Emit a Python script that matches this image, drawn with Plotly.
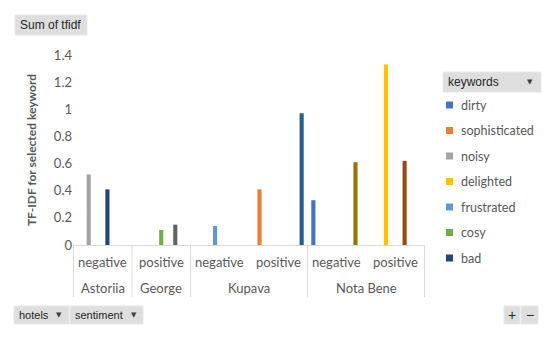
import plotly.graph_objects as go

# ---- data ----
hotels = ["Astoriia", "George", "Kupava", "Kupava", "Nota Bene", "Nota Bene"]
sentiment = ["negative", "positive", "negative", "positive", "negative", "positive"]
keywords = ["dirty", "sophisticated", "noisy", "delighted", "frustrated", "cosy", "bad",
            "excellent", "friendly", "rude", "comfortable"]
colors = ["#4472C4", "#ED7D31", "#A5A5A5", "#FFC000", "#5B9BD5", "#70AD47", "#264478",
          "#9E480E", "#636363", "#997300", "#255E91"]
values = {
    "dirty":         [None, None, None, None, 0.33, None],
    "sophisticated": [None, None, None, 0.41, None, None],
    "noisy":         [0.52, None, None, None, None, None],
    "delighted":     [None, None, None, None, None, 1.33],
    "frustrated":    [None, None, 0.14, None, None, None],
    "cosy":          [None, 0.11, None, None, None, None],
    "bad":           [0.41, None, None, None, None, None],
    "excellent":     [None, None, None, None, None, 0.62],
    "friendly":      [None, 0.15, None, None, None, None],
    "rude":          [None, None, None, None, 0.61, None],
    "comfortable":   [None, None, None, 0.97, None, None],
}
legend_visible = keywords[:7]
y_ticks = [0, 0.2, 0.4, 0.6, 0.8, 1, 1.2, 1.4]
y_ticktext = ["0", "0.2", "0.4", "0.6", "0.8", "1", "1.2", "1.4"]

# ---- layout geometry ----
W, H = 550, 340
ML, MR, MT, MB = 73, 125, 55, 95
PW, PH = W - ML - MR, H - MT - MB

def px(x):
    return (x - ML) / PW

def py(y):
    return (H - MB - y) / PH

FONT = "Lato"
GREY = "#595959"
LINE = "#D9D9D9"

fig = go.Figure()
for k, c in zip(keywords, colors):
    fig.add_trace(go.Bar(x=[hotels, sentiment], y=values[k], name=k,
                         marker=dict(color=c, line=dict(width=0)), showlegend=False))

shapes = []
annotations = []

# category table under the axis (inner = sentiment, outer = hotels)
for i, s in enumerate(sentiment):
    annotations.append(dict(xref="x", yref="paper", x=i, y=py(262), text=s,
                            showarrow=False, xanchor="center", yanchor="middle",
                            font=dict(family=FONT, size=13, color=GREY)))
groups = []
for i, h in enumerate(hotels):
    if groups and groups[-1][0] == h:
        groups[-1][2] = i
    else:
        groups.append([h, i, i])
bounds = [groups[0][1] - 0.5] + [g[2] + 0.5 for g in groups]
for h, a, b in groups:
    annotations.append(dict(xref="x", yref="paper", x=(a + b) / 2, y=py(288), text=h,
                            showarrow=False, xanchor="center", yanchor="middle",
                            font=dict(family=FONT, size=13, color=GREY)))
for bx in bounds:
    shapes.append(dict(type="line", xref="x", yref="paper", x0=bx, x1=bx,
                       y0=0, y1=py(297), line=dict(color=LINE, width=1)))

def button(x0, y0, x1, y1, text, arrow_dx=None, tx=None, size=12, anchor="left"):
    shapes.append(dict(type="rect", xref="paper", yref="paper",
                       x0=px(x0), x1=px(x1), y0=py(y1), y1=py(y0),
                       fillcolor="#DEDEDE", line=dict(color="#E8E8E8", width=1), layer="above"))
    annotations.append(dict(xref="paper", yref="paper",
                            x=px(tx if tx is not None else x0 + 3), y=py((y0 + y1) / 2),
                            text=text, showarrow=False, xanchor=anchor, yanchor="middle",
                            font=dict(family="Liberation Sans", size=size, color="#262626")))
    if arrow_dx is not None:
        annotations.append(dict(xref="paper", yref="paper", x=px(x1 - arrow_dx),
                                y=py((y0 + y1) / 2), text="▼", showarrow=False,
                                xanchor="center", yanchor="middle",
                                font=dict(family="DejaVu Sans", size=7, color="#404040")))

button(15, 15, 87, 35, "Sum of tfidf")
button(443, 72, 541, 92, "keywords", arrow_dx=11)
button(14, 306, 69, 324, "hotels", arrow_dx=10, size=11)
button(70, 306, 143, 324, "sentiment", arrow_dx=9, size=11)
button(504, 306, 520, 324, "+", tx=512, anchor="center", size=14)
button(521, 306, 538, 324, "−", tx=529.5, anchor="center", size=14)

# legend (manual, clipped like the reference)
for i, k in enumerate(legend_visible):
    yc = 105 + i * 25.5
    c = colors[keywords.index(k)]
    shapes.append(dict(type="rect", xref="paper", yref="paper",
                       x0=px(446), x1=px(453), y0=py(yc + 3.5), y1=py(yc - 3.5),
                       fillcolor=c, line=dict(width=0)))
    annotations.append(dict(xref="paper", yref="paper", x=px(459), y=py(yc),
                            text=k, showarrow=False, xanchor="left", yanchor="middle",
                            font=dict(family=FONT, size=12.5, color=GREY)))

fig.update_layout(
    width=W, height=H,
    margin=dict(l=ML, r=MR, t=MT, b=MB, autoexpand=False),
    paper_bgcolor="white", plot_bgcolor="white",
    barmode="group", bargap=0.12, bargroupgap=0.12,
    showlegend=False,
    font=dict(family=FONT, color=GREY, size=13),
    shapes=shapes, annotations=annotations,
    xaxis=dict(type="multicategory", showline=True, linecolor=LINE, linewidth=1,
               showgrid=False, ticks="", showticklabels=False, showdividers=False,
               automargin=False),
    yaxis=dict(range=[0, 1.4], tickvals=y_ticks, ticktext=y_ticktext, showgrid=False,
               zeroline=False, showline=False, ticks="", automargin=False,
               tickfont=dict(family=FONT, size=13, color=GREY),
               title=dict(text="<b>TF-IDF for selected keyword</b>", standoff=14,
                          font=dict(family=FONT, size=12, color=GREY))),
)

fig.write_html("out.html", config={"displayModeBar": False},
               post_script="document.body.style.margin='0';")
